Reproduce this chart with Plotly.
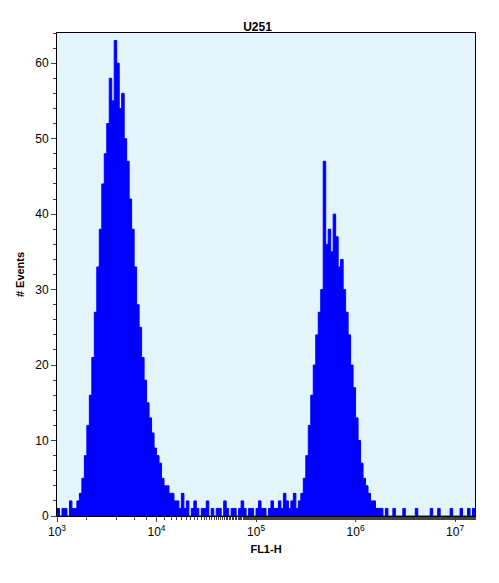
import plotly.graph_objects as go

log_start = 3.0
log_step = 0.025
counts = (
    [1, 0, 1, 1, 0, 2, 1, 1,
     2, 3, 5, 8, 12, 16, 21, 27, 33, 38, 44, 48, 52, 58, 55, 63,
     60, 54, 56, 50, 47, 42, 38, 33, 28, 25, 21, 18, 15, 13, 11, 9,
     8, 7, 5, 4, 4, 3, 3, 2]
    + [2, 1, 3, 1, 2, 0, 1, 2, 1, 0, 1, 1, 2, 0, 1, 0, 1, 1, 0, 2, 1, 0, 1, 1,
       0, 1, 2, 1, 0, 1, 1, 0, 1, 2, 1, 1, 0, 1, 2, 1, 1, 2, 1, 3, 2, 1, 2, 3, 1, 2]
    + [3, 5, 8, 12, 16, 20, 24, 27, 30, 47, 36, 38, 35, 40, 37, 33,
       34, 30, 27, 24, 20, 17, 13, 10, 7, 5, 4, 3, 2, 2, 1, 1]
    + [1, 0, 1, 0, 0, 1, 0, 0, 0, 1, 0, 0, 0, 0, 1, 0, 0, 0, 0, 0,
       1, 0, 0, 1, 0, 0, 0, 0, 1, 0, 0, 0, 1, 0, 0, 1, 0, 1]
)
x_edges = [10 ** (log_start + i * log_step) for i in range(len(counts) + 1)]
y_vals = counts + [counts[-1]]

tick_vals = [1e3, 1e4, 1e5, 1e6, 1e7]
tick_text = ["10<sup>3</sup>", "10<sup>4</sup>", "10<sup>5</sup>", "10<sup>6</sup>", "10<sup>7</sup>"]

fig = go.Figure(go.Scatter(
    x=x_edges, y=y_vals, mode="lines", line=dict(color="#0000ff", width=1, shape="hv"),
    fill="tozeroy", fillcolor="#0000ff"))

fig.update_layout(
    width=499, height=583, paper_bgcolor="white", plot_bgcolor="#e3f4fb",
    margin=dict(l=47, r=32, t=25, b=75),
    title=dict(text="<b>U251</b>", x=0.5, y=0.975, font=dict(size=12, family="Arial", color="black")),
    font=dict(family="Arial", size=12, color="black"), showlegend=False,
    xaxis=dict(type="log", range=[3, 7.2], tickvals=tick_vals, ticktext=tick_text,
               showgrid=False, ticks="outside", showline=True, linecolor="black", mirror=True,
               minor=dict(ticks="outside", ticklen=3, showgrid=False),
               title=dict(text="<b>FL1-H</b>", font=dict(size=11), standoff=6)),
    yaxis=dict(range=[0, 64], tickvals=[0, 10, 20, 30, 40, 50, 60], showgrid=False,
               ticks="outside", showline=True, linecolor="black", mirror=True,
               minor=dict(ticks="outside", ticklen=3, dtick=2),
               title=dict(text="<b># Events</b>", font=dict(size=11), standoff=8)),
)
fig.write_html("out.html")
